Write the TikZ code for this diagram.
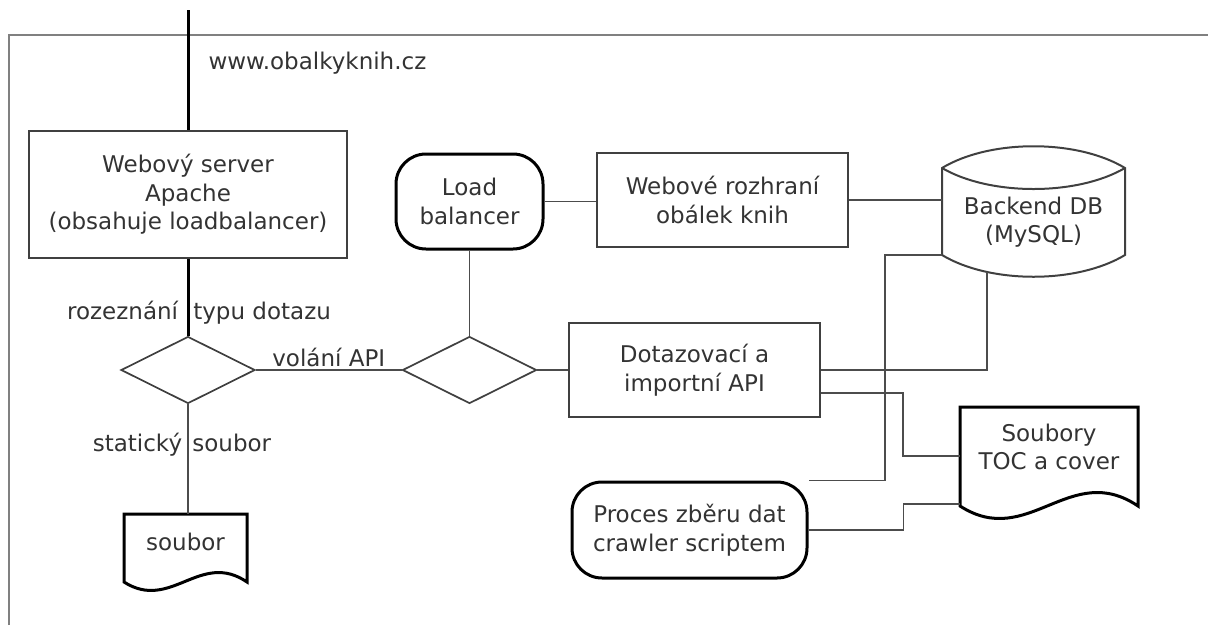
\documentclass[tikz,border=0pt]{standalone}
\usepackage{fontspec}
\setmainfont{DejaVu Sans}
\usetikzlibrary{shapes.geometric}

\begin{document}
\begin{tikzpicture}[x=1pt, y=-1pt,
    every node/.style={font=\fontsize{23}{28.5}\selectfont, text=black!80},
    outline/.style={draw=black!75, line width=2pt},
    docoutline/.style={draw=black, line width=3pt},
    box/.style={outline, minimum width=251pt, minimum height=94pt, align=center},
    roundbox/.style={draw=black, line width=3pt, rounded corners=30pt, align=center},
    decision/.style={diamond, draw=black!75, line width=1.7pt, minimum width=134pt, minimum height=67pt, inner sep=0pt},
    doctext/.style={align=center, inner sep=0pt},
    conn/.style={draw=black!70, line width=1.7pt},
    thickconn/.style={draw=black, line width=3pt},
    lbl/.style={inner sep=2pt},
    border/.style={draw=black!50, line width=2pt}]

    \useasboundingbox (0,0) rectangle (1208,625);

    % Outer frame
    \draw[border] (9,625) -- (9,35) -- (1208,35);

    % Boxes
    \node[box, minimum width=318pt, minimum height=127pt] (apache) at (188,194.5) {Webový server\\Apache\\(obsahuje loadbalancer)};
    \node[roundbox, minimum width=147pt, minimum height=95pt] (lb) at (469.5,201.5) {Load\\balancer};
    \node[box] (web) at (722.5,200) {Webové rozhraní\\obálek knih};
    \node[box] (api) at (694.5,370) {Dotazovací a\\importní API};
    \node[roundbox, minimum width=235pt, minimum height=96pt] (crawler) at (689.5,530) {Proces zběru dat\\crawler scriptem};

    % Decisions
    \node[decision] (d1) at (188,370) {};
    \node[decision] (d2) at (469.5,370) {};

    % Database and documents (text only, outlines below)
    \node[doctext, minimum width=183pt] (db) at (1033.5,222) {Backend DB\\(MySQL)};
    \node[doctext, minimum width=178pt] (toc) at (1049,447) {Soubory\\TOC a cover};
    \node[doctext, minimum width=123pt, minimum height=56pt] (soubor) at (185.5,542) {soubor};

    % Backend DB drum
    \draw[outline] (942,168) .. controls (990,139) and (1077,139) .. (1125,168) -- (1125,255)
        .. controls (1077,284) and (990,284) .. (942,255) -- cycle;
    \draw[outline] (942,168) .. controls (990,196) and (1077,196) .. (1125,168);

    % Document shapes
    \draw[docoutline] (960,407) -- (1138,407) -- (1138,506) .. controls (1070,460) and (1028,550) .. (960,506) -- cycle;
    \draw[docoutline] (124,514) -- (247,514) -- (247,582) .. controls (200,550) and (171,612) .. (124,582) -- cycle;

    % Request path
    \coordinate (entry) at (188,10);
    \draw[thickconn] (entry) -- node[lbl, pos=0.44, anchor=west, xshift=17pt] {www.obalkyknih.cz} (apache);
    \draw[thickconn] (apache) -- node[lbl, pos=0.7, xshift=11pt] {rozeznání\hspace{8pt} typu dotazu} (d1);
    \draw[conn] (d1) -- node[lbl, above] {volání API} (d2);
    \draw[conn] (d1) -- node[lbl, pos=0.37, xshift=-6pt] {statický\hspace{3pt} soubor} (d1.south |- soubor.north);

    % Load balancer and API
    \draw[conn] (lb) -- (d2);
    \draw[conn] (lb.east) -- (lb.east -| web.west);
    \draw[conn] (d2) -- (api);
    \draw[conn] (web.east) -- (web.east -| db.west);

    % Links to the database
    \coordinate (dbfoot) at (987,272);
    \draw[conn] (dbfoot) |- (api.east);
    \coordinate (dbcorner) at (942,255);
    \draw[conn] (dbcorner) -- ++(-57,0) |- (crawler.north east);

    % Links to the files
    \draw[conn] ([yshift=-23pt]api.east) -- ++(82,0) |- ([yshift=-9pt]toc.west);
    \draw[conn] (crawler.east) -- ++(95,0) |- ([yshift=-57pt]toc.west);
\end{tikzpicture}
\end{document}
